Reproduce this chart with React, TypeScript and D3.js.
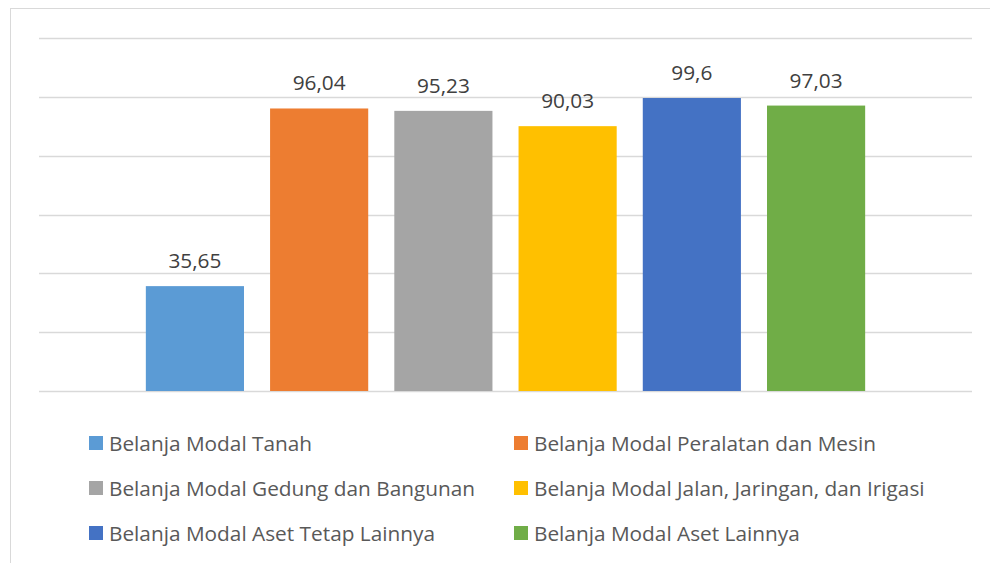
import { useRef, useEffect } from "react";
import * as d3 from "d3";

// data
const seriesNames = [
  "Belanja Modal Tanah",
  "Belanja Modal Peralatan dan Mesin",
  "Belanja Modal Gedung dan Bangunan",
  "Belanja Modal Jalan, Jaringan, dan Irigasi",
  "Belanja Modal Aset Tetap Lainnya",
  "Belanja Modal Aset Lainnya",
];
const seriesValues = [35.65, 96.04, 95.23, 90.03, 99.6, 97.03];
const valueLabels = ["35,65", "96,04", "95,23", "90,03", "99,6", "97,03"];
const seriesColors = ["#5B9BD5", "#ED7D31", "#A5A5A5", "#FFC000", "#4472C4", "#70AD47"];
const gridTicks = [0, 20, 40, 60, 80, 100, 120];

export default function App() {
  const svgRef = useRef<SVGSVGElement>(null);

  useEffect(() => {
    const width = 990;
    const height = 563;
    const FONT = "'Open Sans', 'Noto Sans', sans-serif";

    const svg = d3.select(svgRef.current).attr("width", width).attr("height", height);
    svg.selectAll("*").remove();

    // chart frame (cut off on right and bottom)
    svg.append("rect")
      .attr("x", 10.5).attr("y", 8.5)
      .attr("width", width + 20).attr("height", height + 20)
      .attr("fill", "#fff").attr("stroke", "#d9d9d9").attr("stroke-width", 1);

    const plotLeft = 39;
    const plotRight = 972;

    const yScale = d3.scaleLinear().domain([0, 120]).range([391, 38]);

    // one category holding six series side by side
    const xSeries = d3.scaleBand()
      .domain(seriesNames)
      .range([plotLeft, plotRight])
      .paddingInner(0.21)
      .paddingOuter(0.86);

    // gridlines
    svg.append("g")
      .selectAll("line")
      .data(gridTicks)
      .join("line")
      .attr("x1", plotLeft).attr("x2", plotRight)
      .attr("y1", d => Math.round(yScale(d)) + 0.5)
      .attr("y2", d => Math.round(yScale(d)) + 0.5)
      .attr("stroke", "#d9d9d9")
      .attr("stroke-width", 1.3);

    // bars
    svg.append("g")
      .selectAll("rect")
      .data(seriesNames)
      .join("rect")
      .attr("x", d => xSeries(d)!)
      .attr("width", xSeries.bandwidth())
      .attr("y", (d, i) => yScale(seriesValues[i]))
      .attr("height", (d, i) => yScale(0) - yScale(seriesValues[i]))
      .attr("fill", (d, i) => seriesColors[i]);

    // value labels
    svg.append("g")
      .selectAll("text")
      .data(seriesNames)
      .join("text")
      .attr("x", d => xSeries(d)! + xSeries.bandwidth() / 2)
      .attr("y", (d, i) => yScale(seriesValues[i]) - 18)
      .attr("text-anchor", "middle")
      .attr("font-family", FONT)
      .attr("font-size", 20.8)
      .attr("fill", "#404040")
      .text((d, i) => valueLabels[i]);

    // legend, two columns
    const legendCol = d3.scaleOrdinal<number, number>().domain([0, 1]).range([89, 514]);
    const legendRow = d3.scaleLinear().domain([0, 2]).range([443, 533]);

    const items = svg.append("g")
      .selectAll("g")
      .data(seriesNames)
      .join("g")
      .attr("transform", (d, i) => `translate(${legendCol(i % 2)},${legendRow(Math.floor(i / 2))})`);

    items.append("rect")
      .attr("x", 0).attr("y", -7)
      .attr("width", 14).attr("height", 14)
      .attr("fill", (d, i) => seriesColors[i]);

    items.append("text")
      .attr("x", 20)
      .attr("y", 7.5)
      .attr("font-family", FONT)
      .attr("font-size", 20.8)
      .attr("fill", "#595959")
      .text(d => d);
  }, []);

  return (
    <svg ref={svgRef} style={{ position: "absolute", left: 0, top: 0, display: "block" }}></svg>
  );
}
